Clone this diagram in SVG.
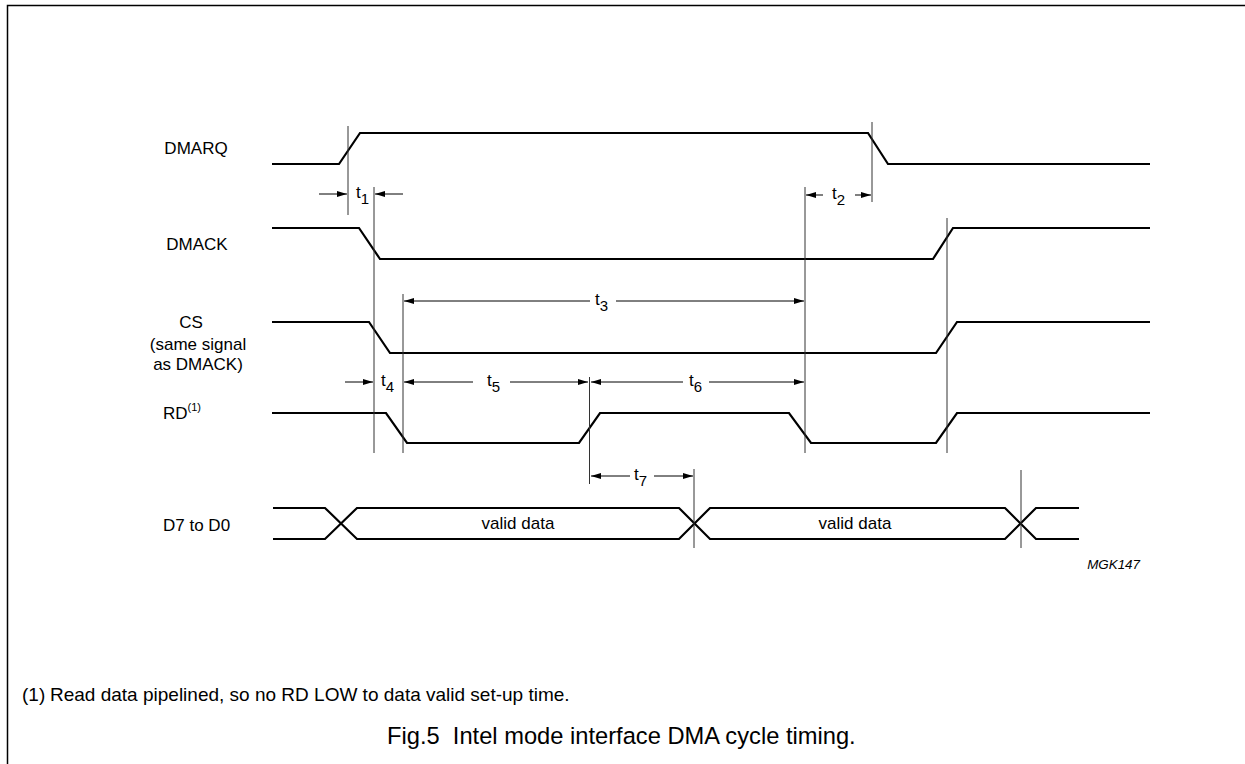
<svg xmlns="http://www.w3.org/2000/svg" width="1245" height="764" viewBox="0 0 1245 764">
<defs>
<marker id="ah" viewBox="0 0 10 6" refX="10" refY="3" markerWidth="10" markerHeight="6" markerUnits="userSpaceOnUse" orient="auto">
<path d="M0,0 L10,3 L0,6 Z" fill="#000"/>
</marker>
<style>
.sig{fill:none;stroke:#000;stroke-width:2.2;stroke-linejoin:miter}
.ref{stroke:#333;stroke-width:1;fill:none}
.dim{stroke:#000;stroke-width:1;fill:none;marker-end:url(#ah)}
text{font-family:"Liberation Sans",Arial,sans-serif;fill:#000}
.lbl{font-size:17px}
.t{font-size:17px}
.sub{font-size:15px}
.sup{font-size:11px}
.code{font-size:13.4px;font-style:italic}
.note{font-size:19px}
.cap{font-size:23.7px}
</style>
</defs>
<rect width="1245" height="764" fill="#fff"/>
<path d="M7.5,764 V5.5 H1245" fill="none" stroke="#000" stroke-width="1.5"/>

<g id="labels">
<text class="lbl" x="196" y="154" text-anchor="middle">DMARQ</text>
<text class="lbl" x="197" y="250" text-anchor="middle">DMACK</text>
<text class="lbl" x="191" y="328" text-anchor="middle">CS</text>
<text class="lbl" x="198" y="350" text-anchor="middle">(same signal</text>
<text class="lbl" x="198" y="370" text-anchor="middle">as DMACK)</text>
<text class="lbl" x="163" y="419">RD<tspan class="sup" dy="-8">(1)</tspan></text>
<text class="lbl" x="163" y="531">D7 to D0</text>
</g>

<g id="signals">
<polyline id="dmarq" class="sig" points="272,164 339,164 360,133 868,133 888,164 1150,164"/>
<polyline id="dmack" class="sig" points="272,228 359,228 380,259 933,259 953,228 1150,228"/>
<polyline id="cs" class="sig" points="272,322 369,322 390,353 936,353 957,322 1150,322"/>
<polyline id="rd" class="sig" points="272,413 386,413 407,443 579,443 600,413 789,413 811,443 936,443 957,413 1150,413"/>
<g id="data">
<polyline class="sig" points="273,508 325,508 357,539 679,539 710,508 1005,508 1036,539 1079,539"/>
<polyline class="sig" points="273,539 325,539 357,508 679,508 710,539 1005,539 1036,508 1079,508"/>
<text class="lbl" x="518" y="529" text-anchor="middle">valid data</text>
<text class="lbl" x="855" y="529" text-anchor="middle">valid data</text>
</g>
</g>

<g id="connectors">
<line class="ref" x1="348" y1="126" x2="348" y2="215"/>
<line class="ref" x1="374" y1="187" x2="374" y2="453"/>
<line class="ref" x1="872" y1="122" x2="872" y2="202"/>
<line class="ref" x1="805" y1="187" x2="805" y2="453"/>
<line class="ref" x1="403" y1="294" x2="403" y2="453"/>
<line class="ref" x1="947" y1="218" x2="947" y2="453"/>
<line class="ref" x1="589.5" y1="377" x2="589.5" y2="484"/>
<line class="ref" x1="694" y1="469" x2="694" y2="548" stroke="#000"/>
<line class="ref" x1="1021" y1="470" x2="1021" y2="548" stroke="#000"/>

<line class="dim" x1="319" y1="194" x2="347" y2="194"/>
<line class="dim" x1="403" y1="194" x2="375" y2="194"/>
<line class="dim" x1="823" y1="195" x2="806" y2="195"/>
<line class="dim" x1="855" y1="195" x2="871" y2="195"/>
<line class="dim" x1="590" y1="301" x2="404" y2="301"/>
<line class="dim" x1="616" y1="301" x2="804" y2="301"/>
<line class="dim" x1="345" y1="382" x2="373" y2="382"/>
<line class="dim" x1="473" y1="382" x2="404" y2="382"/>
<line class="dim" x1="510" y1="382" x2="588" y2="382"/>
<line class="dim" x1="683" y1="382" x2="591" y2="382"/>
<line class="dim" x1="709" y1="382" x2="804" y2="382"/>
<line class="dim" x1="630" y1="476" x2="591" y2="476"/>
<line class="dim" x1="654" y1="476" x2="693" y2="476"/>

<text class="t" x="356" y="198">t<tspan class="sub" dy="6">1</tspan></text>
<text class="t" x="832" y="199">t<tspan class="sub" dy="6">2</tspan></text>
<text class="t" x="595" y="305">t<tspan class="sub" dy="6">3</tspan></text>
<text class="t" x="381" y="386">t<tspan class="sub" dy="6">4</tspan></text>
<text class="t" x="487" y="386">t<tspan class="sub" dy="6">5</tspan></text>
<text class="t" x="689" y="386">t<tspan class="sub" dy="6">6</tspan></text>
<text class="t" x="634" y="480">t<tspan class="sub" dy="6">7</tspan></text>
</g>

<text class="code" x="1140" y="569" text-anchor="end">MGK147</text>
<text class="note" x="22" y="701">(1)<tspan x="50">Read data pipelined, so no RD LOW to data valid set-up time.</tspan></text>
<text class="cap" x="387" y="744" xml:space="preserve">Fig.5  Intel mode interface DMA cycle timing.</text>
</svg>
